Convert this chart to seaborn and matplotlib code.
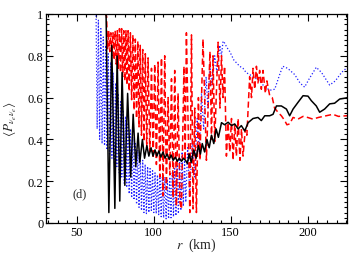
import matplotlib
matplotlib.use("Agg")
import matplotlib.pyplot as plt
import seaborn as sns
import pandas as pd
from matplotlib.ticker import MultipleLocator

sns.set_style("ticks")
plt.rcParams["font.family"] = ["Liberation Serif", "DejaVu Serif"]
plt.rcParams["mathtext.fontset"] = "stix"

# black solid
black_r = [55, 69.0, 70.8, 72.7, 74.7, 76.2, 77.9, 79.4, 81.2, 83.0, 85.0, 86.6, 88.3, 89.8, 90.9,
           92.6, 94.0, 95.5, 96.8, 98.2, 99.5, 100.8, 102.0, 103.3, 104.6, 106.0, 107.3, 108.6,
           110.0, 111.3, 112.6, 114.0, 115.3, 116.6, 118.0, 119.3, 120.6, 121.8, 123.0, 124.3,
           126.0, 127.5, 129.0, 130.3, 131.5, 133.0, 134.5, 136.0, 137.5, 139.0, 140.5, 142.0,
           144.0, 146.0, 148.3, 150.5, 152.6, 154.8, 156.9, 159.1, 161.3, 164.5, 167.7, 169.9,
           172.1, 175.3, 177.5, 179.7, 182.9, 186.2, 188.3, 190.5, 193.7, 197.0, 200.2, 202.4,
           205.6, 207.8, 211.0, 214.3, 217.5, 220.8, 224.0, 226.0]
black_p = [1.0, 1.0, 0.05, 0.85, 0.07, 0.80, 0.105, 0.72, 0.18, 0.62, 0.22, 0.52, 0.27, 0.43, 0.29,
           0.40, 0.31, 0.37, 0.32, 0.36, 0.32, 0.35, 0.32, 0.345, 0.315, 0.34, 0.31, 0.33,
           0.305, 0.325, 0.30, 0.315, 0.295, 0.31, 0.295, 0.31, 0.30, 0.285, 0.33, 0.29,
           0.35, 0.31, 0.37, 0.33, 0.38, 0.34, 0.40, 0.36, 0.42, 0.38, 0.45, 0.41,
           0.48, 0.47, 0.482, 0.466, 0.474, 0.45, 0.466, 0.44, 0.48, 0.50, 0.505, 0.49,
           0.513, 0.513, 0.52, 0.56, 0.56, 0.545, 0.513, 0.545, 0.577, 0.609, 0.607, 0.585,
           0.56, 0.53, 0.545, 0.57, 0.573, 0.593, 0.597, 0.60]

# red dashed
red_r = [55, 68.5, 69.3, 70.0, 70.7, 71.4, 72.1, 72.8, 73.5, 74.2, 74.9, 75.6, 76.3, 77.0, 77.7,
         78.4, 79.1, 79.8, 80.5, 81.2, 81.9, 82.6, 83.3, 84.0, 84.8, 85.6, 86.4, 87.2, 88.0,
         88.8, 89.6, 90.4, 91.2, 92.0, 92.8, 93.6, 94.5, 95.4, 96.3, 97.4, 98.5, 99.6, 100.6,
         101.7, 102.8, 103.9, 105.0, 106.0, 107.1, 108.2, 109.3, 110.4, 111.5, 112.6, 113.6,
         114.7, 115.8, 117.0, 118.0, 119.6, 120.4, 121.2, 123.4, 124.5, 125.5, 126.6, 127.7,
         129.0, 130.0, 132.0, 134.2, 136.5, 137.5, 138.5, 139.6, 141.8, 143.0, 144.0, 145.0,
         146.0, 147.2, 148.3, 149.4, 150.5, 151.5, 152.6, 153.7, 154.8, 156.0, 157.0, 158.0,
         159.5, 160.5, 162.3, 163.5, 164.5, 165.6, 166.7, 167.7, 168.8, 169.9, 171.0, 172.5,
         173.5, 175.3, 177.0, 178.5, 180.7, 182.9, 185.1, 186.5, 188.3, 190.5, 193.7, 197.0,
         200.0, 203.4, 207.0, 212.0, 216.4, 220.0, 225.0, 227.0]
red_p = [1.0, 1.0, 0.99, 0.83, 0.92, 0.82, 0.91, 0.80, 0.91, 0.78, 0.92, 0.76, 0.92, 0.74, 0.93,
         0.72, 0.93, 0.70, 0.92, 0.68, 0.92, 0.66, 0.92, 0.63, 0.91, 0.59, 0.90, 0.54, 0.88,
         0.50, 0.87, 0.46, 0.85, 0.42, 0.83, 0.39, 0.81, 0.36, 0.79, 0.34, 0.74, 0.31, 0.76,
         0.28, 0.77, 0.22, 0.79, 0.13, 0.80, 0.16, 0.60, 0.23, 0.69, 0.12, 0.73,
         0.08, 0.62, 0.10, 0.067, 0.75, 0.30, 0.91, 0.05, 0.90, 0.067, 0.55, 0.05,
         0.60, 0.30, 0.88, 0.30, 0.82, 0.40, 0.80, 0.39, 0.865, 0.55, 0.80, 0.60,
         0.75, 0.32, 0.48, 0.34, 0.50, 0.30, 0.47, 0.32, 0.50, 0.30, 0.45, 0.32,
         0.45, 0.42, 0.70, 0.60, 0.74, 0.64, 0.75, 0.67, 0.73, 0.64, 0.73, 0.62,
         0.68, 0.61, 0.60, 0.55, 0.53, 0.513, 0.49, 0.47, 0.474, 0.505, 0.497, 0.51,
         0.505, 0.497, 0.505, 0.513, 0.52, 0.51, 0.513, 0.513]

# blue dotted
blue_r = [55, 62.5, 63.2, 64.0, 64.8, 65.6, 66.4, 67.2, 68.0, 68.8, 69.6, 70.4, 71.2, 72.0, 72.8,
          73.6, 74.4, 75.2, 76.0, 76.8, 77.6, 78.4, 79.2, 80.0, 80.8, 81.6, 82.4, 83.2, 84.0,
          84.8, 85.6, 86.4, 87.2, 88.0, 88.8, 89.6, 90.4, 91.2, 92.0, 92.8, 93.6, 94.4, 95.2,
          96.0, 96.8, 97.6, 98.4, 99.2, 100.0, 100.8, 101.6, 102.4, 103.2, 104.0, 104.8, 105.6,
          106.4, 107.2, 108.0, 108.8, 109.6, 110.4, 111.2, 112.0, 112.8, 113.6, 114.4, 115.2,
          116.0, 116.8, 117.6, 118.4, 119.2, 120.0, 120.8, 122.0, 123.4, 125.0, 126.6, 128.2,
          129.6, 131.0, 132.4, 134.0, 135.2, 136.4, 137.8, 139.6, 141.0, 142.9, 144.0, 145.0,
          146.1, 147.5, 149.4, 152.0, 155.8, 158.0, 160.0, 162.3, 164.5, 168.8, 171.0, 175.3,
          178.6, 181.8, 183.8, 187.0, 191.6, 195.0, 198.0, 201.0, 205.6, 209.0, 214.3, 218.0,
          222.0, 225.0, 227.0]
blue_p = [1.0, 1.0, 0.45, 0.97, 0.40, 0.93, 0.38, 0.89, 0.37, 0.85, 0.35, 0.81, 0.33, 0.77, 0.31,
          0.72, 0.29, 0.67, 0.27, 0.62, 0.24, 0.58, 0.22, 0.54, 0.19, 0.51, 0.17, 0.48, 0.14,
          0.45, 0.12, 0.41, 0.11, 0.38, 0.09, 0.35, 0.075, 0.32, 0.06, 0.30, 0.05, 0.28, 0.045,
          0.27, 0.05, 0.26, 0.06, 0.25, 0.05, 0.24, 0.045, 0.23, 0.04, 0.23, 0.03, 0.22,
          0.025, 0.22, 0.02, 0.21, 0.02, 0.22, 0.025, 0.24, 0.03, 0.26, 0.035, 0.28,
          0.045, 0.31, 0.06, 0.34, 0.08, 0.30, 0.10, 0.36, 0.13, 0.40, 0.22, 0.50,
          0.34, 0.62, 0.45, 0.70, 0.55, 0.76, 0.66, 0.80, 0.72, 0.85, 0.80, 0.87,
          0.86, 0.84, 0.82, 0.78, 0.75, 0.74, 0.72, 0.71, 0.70, 0.68, 0.66, 0.635,
          0.64, 0.71, 0.75, 0.74, 0.71, 0.67, 0.65, 0.69, 0.745, 0.72, 0.66, 0.68,
          0.72, 0.74, 0.745]

fig = plt.figure(figsize=(3.49, 2.55), dpi=100)
ax = fig.add_axes([0.132, 0.1216, 0.862, 0.8196])

sns.lineplot(x=blue_r, y=blue_p, ax=ax, color="#2020ff", linewidth=0.9,
             linestyle=(0, (1, 1.6)), estimator=None, sort=False)
sns.lineplot(x=red_r, y=red_p, ax=ax, color="#ff0000", linewidth=1.1,
             linestyle=(0, (4, 2.2)), estimator=None, sort=False)
sns.lineplot(x=black_r, y=black_p, ax=ax, color="black", linewidth=1.1,
             estimator=None, sort=False)

ax.set_xlim(30, 225.5)
ax.set_ylim(0, 1)
ax.xaxis.set_major_locator(MultipleLocator(50))
ax.xaxis.set_minor_locator(MultipleLocator(6.25))
ax.yaxis.set_major_locator(MultipleLocator(0.2))
ax.yaxis.set_minor_locator(MultipleLocator(0.025))
ax.set_yticks([0, 0.2, 0.4, 0.6, 0.8, 1.0])
ax.set_yticklabels(["0", "0.2", "0.4", "0.6", "0.8", "1"])
ax.tick_params(which="both", direction="in", top=True, right=True, labelsize=9,
               width=0.8, colors="black", pad=2)
ax.tick_params(which="major", length=5)
ax.tick_params(which="minor", length=2.5)
for s in ax.spines.values():
    s.set_linewidth(0.9)
    s.set_color("black")

ax.set_xlabel(r"$r$  (km)", fontsize=10)
ax.xaxis.set_label_coords(0.5, -0.062)
ax.set_ylabel(r"$\langle P_{\nu_e\nu_e}\rangle$", fontsize=9.5)
ax.yaxis.set_label_coords(-0.09, 0.5)
ax.text(52, 0.14, "(d)", fontsize=9, ha="center", va="center")

fig.savefig("out.png", dpi=100)
